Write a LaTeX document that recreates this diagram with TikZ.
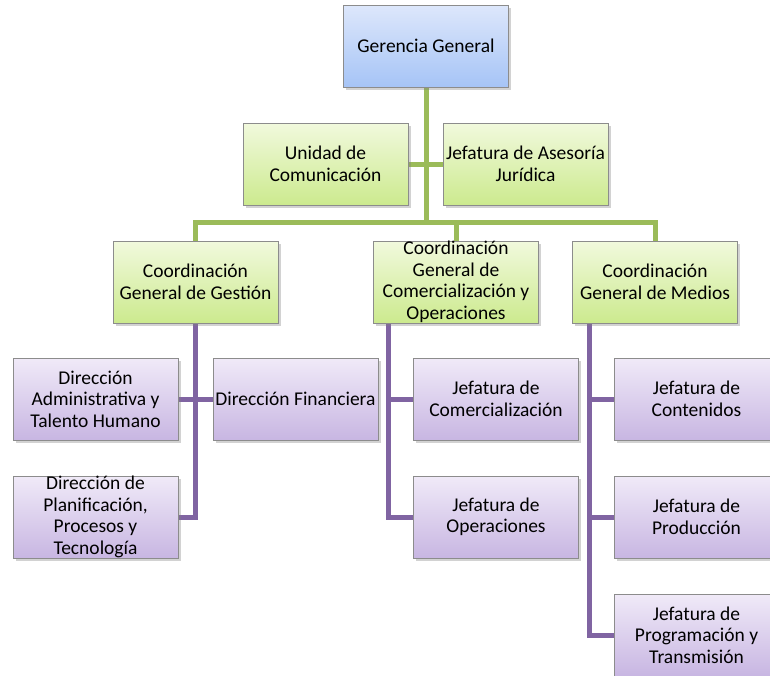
\documentclass[tikz,border=0pt]{standalone}
\usepackage{fontspec}
\setmainfont{Carlito}
\usetikzlibrary{shadows,backgrounds}
\definecolor{gline}{RGB}{155,187,89}
\definecolor{pline}{RGB}{128,100,162}
\definecolor{boxborder}{RGB}{140,140,140}
\tikzset{
  box/.style={draw=boxborder, line width=0.8pt, minimum width=165pt, minimum height=82pt,
    inner sep=0pt, align=center, font=\fontsize{19.5pt}{21.5pt}\selectfont,
    drop shadow={shadow xshift=2.5pt, shadow yshift=-2.5pt, opacity=0.35}},
  bluebox/.style={box, top color={rgb,255:red,221;green,231;blue,251}, bottom color={rgb,255:red,166;green,196;blue,246}},
  greenbox/.style={box, top color={rgb,255:red,241;green,249;blue,221}, bottom color={rgb,255:red,204;green,234;blue,142}},
  purplebox/.style={box, top color={rgb,255:red,240;green,234;blue,248}, bottom color={rgb,255:red,200;green,182;blue,226}},
  gconn/.style={draw=gline, line width=5pt},
  pconn/.style={draw=pline, line width=5pt}
}
\begin{document}
\begin{tikzpicture}[x=1pt, y=-1pt]
\useasboundingbox (0,0) rectangle (770,675);
\node[bluebox] (gg) at (426,46) {Gerencia General};
\node[greenbox] (uc) at (325.5,164) {Unidad de\\Comunicación};
\node[greenbox] (ja) at (525.5,164) {Jefatura de Asesoría\\Jurídica};
\node[greenbox] (cg1) at (195.5,282) {Coordinación\\General de Gestión};
\node[greenbox] (cg2) at (456,282) {Coordinación\\General de\\Comercialización y\\Operaciones};
\node[greenbox] (cg3) at (655,282) {Coordinación\\General de Medios};
\node[purplebox] (da) at (95.5,399) {Dirección\\Administrativa y\\Talento Humano};
\node[purplebox] (df) at (295.5,399) {Dirección Financiera};
\node[purplebox] (dp) at (95.5,517) {Dirección de\\Planificación,\\Procesos y\\Tecnología};
\node[purplebox] (jc) at (496,399) {Jefatura de\\Comercialización};
\node[purplebox] (jo) at (496,517) {Jefatura de\\Operaciones};
\node[purplebox] (jct) at (696.5,399) {Jefatura de\\Contenidos};
\node[purplebox] (jp) at (696.5,517) {Jefatura de\\Producción};
\node[purplebox] (jpt) at (696.5,635) {Jefatura de\\Programación y\\Transmisión};
\coordinate (bus) at (426,222);
\coordinate (m) at ([xshift=15pt]cg2.south west);
\coordinate (r) at ([xshift=17pt]cg3.south west);
\begin{scope}[on background layer]
\fill[white] (0,0) rectangle (770,675);
\draw[gconn] (gg.south) -- (gg.south |- bus);
\draw[gconn] (uc.east) -- (ja.west);
\draw[gconn] (cg1.north) -- (cg1.north |- bus) -- (cg3.north |- bus) -- (cg3.north);
\draw[gconn] (cg2.north) -- (cg2.north |- bus);
\draw[pconn] (cg1.south) |- (dp.east);
\draw[pconn] (da.east) -- (df.west);
\draw[pconn] (m) |- (jc.west);
\draw[pconn] (m) |- (jo.west);
\draw[pconn] (r) |- (jct.west);
\draw[pconn] (r) |- (jp.west);
\draw[pconn] (r) |- (jpt.west);
\end{scope}
\end{tikzpicture}
\end{document}
